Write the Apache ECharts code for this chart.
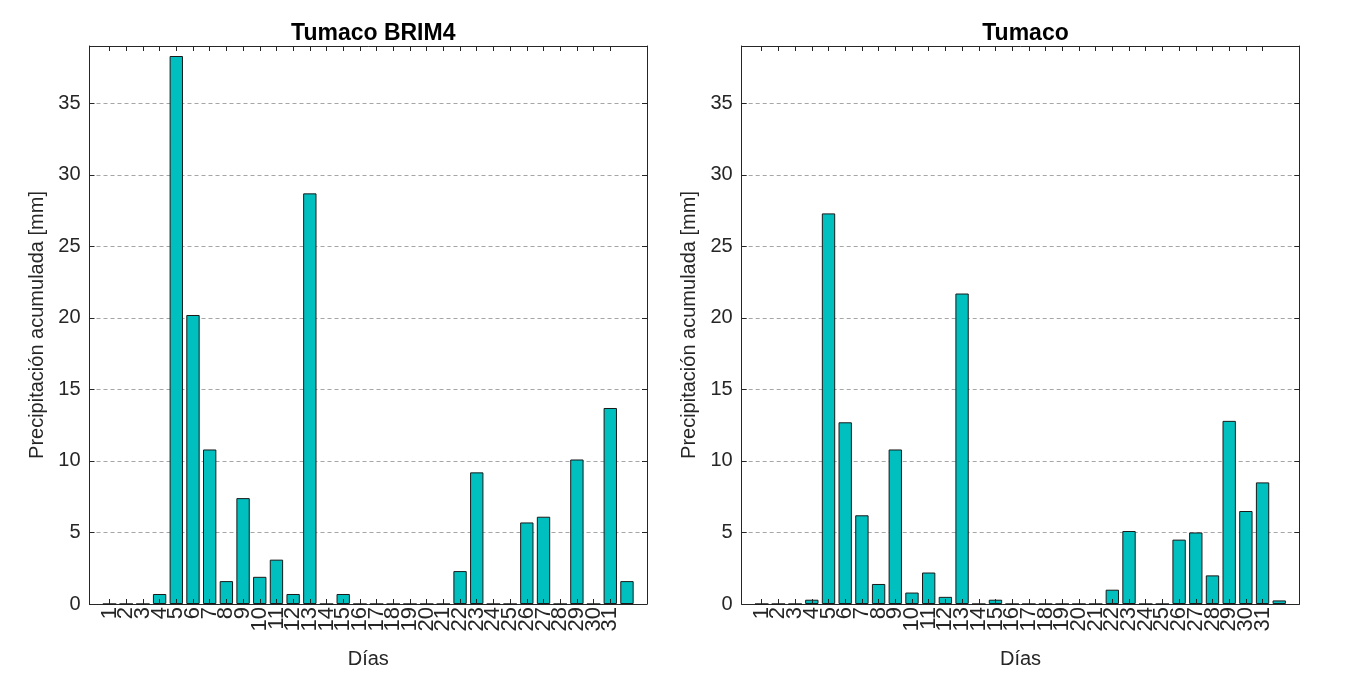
<!DOCTYPE html>
<html>
<head>
<meta charset="utf-8">
<script src="https://cdn.jsdelivr.net/npm/echarts@6/dist/echarts.min.js"></script>
<style>
html,body{margin:0;padding:0;background:#fff;}
#chart{width:1365px;height:682px;}
</style>
</head>
<body>
<div id="chart"></div>
<script>
// ---- data ----
const dayTicks = [1,2,3,4,5,6,7,8,9,10,11,12,13,14,15,16,17,18,19,20,21,22,23,24,25,26,27,28,29,30,31];
const barPositions = [1,2,3,4,5,6,7,8,9,10,11,12,13,14,15,16,17,18,19,20,21,22,23,24,25,26,27,28,29,30,31,32];
const brim4 = [0,0,0,0.7,38.3,20.2,10.8,1.6,7.4,1.9,3.1,0.7,28.7,0,0.7,0,0,0,0,0,0,2.3,9.2,0,0,5.7,6.1,0,10.1,0,13.7,1.6];
const tumaco = [0,0,0,0.3,27.3,12.7,6.2,1.4,10.8,0.8,2.2,0.5,21.7,0,0.3,0,0,0,0,0,0,1.0,5.1,0,0,4.5,5.0,2.0,12.8,6.5,8.5,0.25];
const titles = ['Tumaco BRIM4', 'Tumaco'];
const yName = 'Precipitación acumulada [mm]';
const xName = 'Días';

const FONT = '"Liberation Sans", Arial, Helvetica, sans-serif';
const AXC = '#262626';

const grids = [
  {left: 89.5, top: 46, width: 557.5, height: 558},
  {left: 741.7, top: 46, width: 557.6, height: 558}
];

// split tick labels over two overlaid axes so neighbouring rotated labels never get culled
const oddTicks = dayTicks.filter((d, i) => i % 2 === 0);
const evenTicks = dayTicks.filter((d, i) => i % 2 === 1);

function labelAxis(gi, vals, withName, z) {
  const ax = {
    gridIndex: gi, type: 'value', min: -0.2, max: 33.2, splitLine: {show: false},
    position: 'bottom', z: z,
    axisLine: {show: withName, onZero: false, lineStyle: {color: AXC, width: 1}},
    axisTick: {show: false},
    axisLabel: {show: true, customValues: vals, rotate: 90, margin: 3,
      showMinLabel: true, showMaxLabel: true, hideOverlap: false,
      fontFamily: FONT, fontSize: 22, color: AXC,
      formatter: v => String(v)}
  };
  if (withName) {
    ax.name = xName; ax.nameLocation = 'middle'; ax.nameGap = 45;
    ax.nameTextStyle = {fontFamily: FONT, fontSize: 20, color: AXC};
  }
  return ax;
}

function xAxes(gi) {
  const base = {gridIndex: gi, type: 'value', min: -0.2, max: 33.2, splitLine: {show: false}};
  return [
    labelAxis(gi, oddTicks, true, 0),
    Object.assign({}, base, {
      position: 'top', z: 10,
      axisLine: {show: true, onZero: false, lineStyle: {color: AXC, width: 1}},
      axisTick: {show: true, inside: true, length: 5, customValues: dayTicks, lineStyle: {color: AXC}},
      axisLabel: {show: false}
    }),
    Object.assign({}, base, {
      position: 'bottom', z: 10,
      axisLine: {show: false, onZero: false},
      axisTick: {show: true, inside: true, length: 5, customValues: dayTicks, lineStyle: {color: AXC}},
      axisLabel: {show: false}
    }),
    labelAxis(gi, evenTicks, false, 0)
  ];
}
function yAxes(gi) {
  const base = {gridIndex: gi, type: 'value', min: 0, max: 39, interval: 5};
  return [
    Object.assign({}, base, {
      position: 'left', z: 0,
      name: yName, nameLocation: 'middle', nameGap: 42, nameRotate: 90,
      nameTextStyle: {fontFamily: FONT, fontSize: 20, color: AXC},
      axisLine: {show: true, onZero: false, lineStyle: {color: AXC, width: 1}},
      axisTick: {show: true, inside: true, length: 5, lineStyle: {color: AXC}},
      axisLabel: {show: true, margin: 9, fontFamily: FONT, fontSize: 20, color: AXC, showMaxLabel: false},
      splitLine: {show: true, lineStyle: {color: '#a6a6a6', type: [4, 3], width: 1}}
    }),
    Object.assign({}, base, {
      position: 'right', z: 10,
      axisLine: {show: true, onZero: false, lineStyle: {color: AXC, width: 1}},
      axisTick: {show: true, inside: true, length: 5, lineStyle: {color: AXC}},
      axisLabel: {show: false},
      splitLine: {show: false}
    })
  ];
}

const chart = echarts.init(document.getElementById('chart'), null, {renderer: 'canvas'});
const seriesData = [brim4, tumaco];
chart.setOption({
  animation: false,
  backgroundColor: '#ffffff',
  title: titles.map((t, i) => ({
    text: t,
    left: grids[i].left + grids[i].width / 2,
    top: 17,
    textAlign: 'center',
    textStyle: {fontFamily: FONT, fontSize: 23, fontWeight: 'bold', color: '#000'}
  })),
  grid: grids,
  xAxis: [].concat(xAxes(0), xAxes(1)),
  yAxis: [].concat(yAxes(0), yAxes(1)),
  series: seriesData.map((vals, i) => ({
    type: 'bar',
    xAxisIndex: i * 4,
    yAxisIndex: i * 2,
    barWidth: '80%',
    z: 2,
    itemStyle: {color: '#00BFBF', borderColor: '#1a1a1a', borderWidth: 1},
    data: vals.map((v, k) => [barPositions[k], v])
  }))
});
</script>
</body>
</html>
